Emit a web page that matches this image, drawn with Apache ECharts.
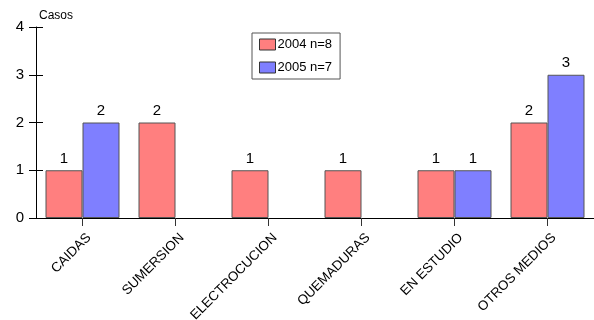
<!DOCTYPE html>
<html><head><meta charset="utf-8">
<script src="https://cdn.jsdelivr.net/npm/echarts@6/dist/echarts.min.js"></script>
<style>html,body{margin:0;padding:0;background:#fff}#c{width:594px;height:320px}</style>
</head><body><div id="c"></div>
<script>
const categories = ['CAIDAS','SUMERSION','ELECTROCUCION','QUEMADURAS','EN ESTUDIO','OTROS MEDIOS'];
const seriesNames = ['2004 n=8','2005 n=7'];
const values2004 = [1,2,1,1,1,2];
const values2005 = [2,0,0,0,1,3];
const yTicks = [0,1,2,3,4];

const font = 'Liberation Sans, Arial, sans-serif';
const chart = echarts.init(document.getElementById('c'));
function mk(name, data, color){
  return {
    name, type:'bar', data: data.map(v => v === 0 ? null : v),
    barWidth: 37, barGap: '0%',
    itemStyle:{color, borderColor:'#555', borderWidth:1},
    label:{show:true, position:'top', distance:4, color:'#000', fontFamily:font, fontSize:15},
    xAxisIndex:0, yAxisIndex:0
  };
}
chart.setOption({
  animation:false,
  textStyle:{fontFamily:font},
  grid:{left:36, right:0, top:27, bottom:102, containLabel:false, outerBoundsMode:'none'},
  legend:{
    orient:'vertical', left:252, top:33, padding:[5,8,5,7],
    itemGap:10, itemWidth:16, itemHeight:11, icon:'rect',
    borderColor:'#555', borderWidth:1, backgroundColor:'#fff',
    textStyle:{fontFamily:font, fontSize:13, color:'#000', padding:[0,0,0,-3]},
    itemStyle:{borderColor:'#333', borderWidth:1},
    data: seriesNames
  },
  xAxis:[{
    type:'category', data:categories, position:'bottom',
    axisLine:{lineStyle:{color:'#000', width:1}},
    axisTick:{show:true, alignWithLabel:true, length:8, lineStyle:{color:'#333'}},
    axisLabel:{rotate:45, color:'#000', fontSize:13.4, fontFamily:font, margin:24, interval:0, padding:[0,-9,0,0]}
  },{
    type:'category', data:categories, position:'top',
    axisLine:{show:true, lineStyle:{color:'#000'}}, axisTick:{show:false}, axisLabel:{show:false}
  }],
  yAxis:[{
    type:'value', min:yTicks[0], max:yTicks[yTicks.length-1], interval:1,
    name:'Casos', nameLocation:'end', nameGap:5,
    nameTextStyle:{color:'#000', fontSize:12, fontFamily:font, align:'left', padding:[0,0,0,3]},
    axisLine:{show:true, lineStyle:{color:'#000'}},
    axisTick:{show:true, length:7, lineStyle:{color:'#000'}},
    axisLabel:{color:'#000', fontSize:15, fontFamily:font, margin:12},
    splitLine:{show:false}
  },{
    type:'value', min:yTicks[0], max:yTicks[yTicks.length-1], interval:1, position:'left',
    axisLine:{show:false}, axisTick:{show:true, inside:true, length:7, lineStyle:{color:'#000'}},
    axisLabel:{show:false}, splitLine:{show:false}
  }],
  series:[mk(seriesNames[0], values2004, '#FF7F7F'), mk(seriesNames[1], values2005, '#7F7FFF')]
});
</script></body></html>
